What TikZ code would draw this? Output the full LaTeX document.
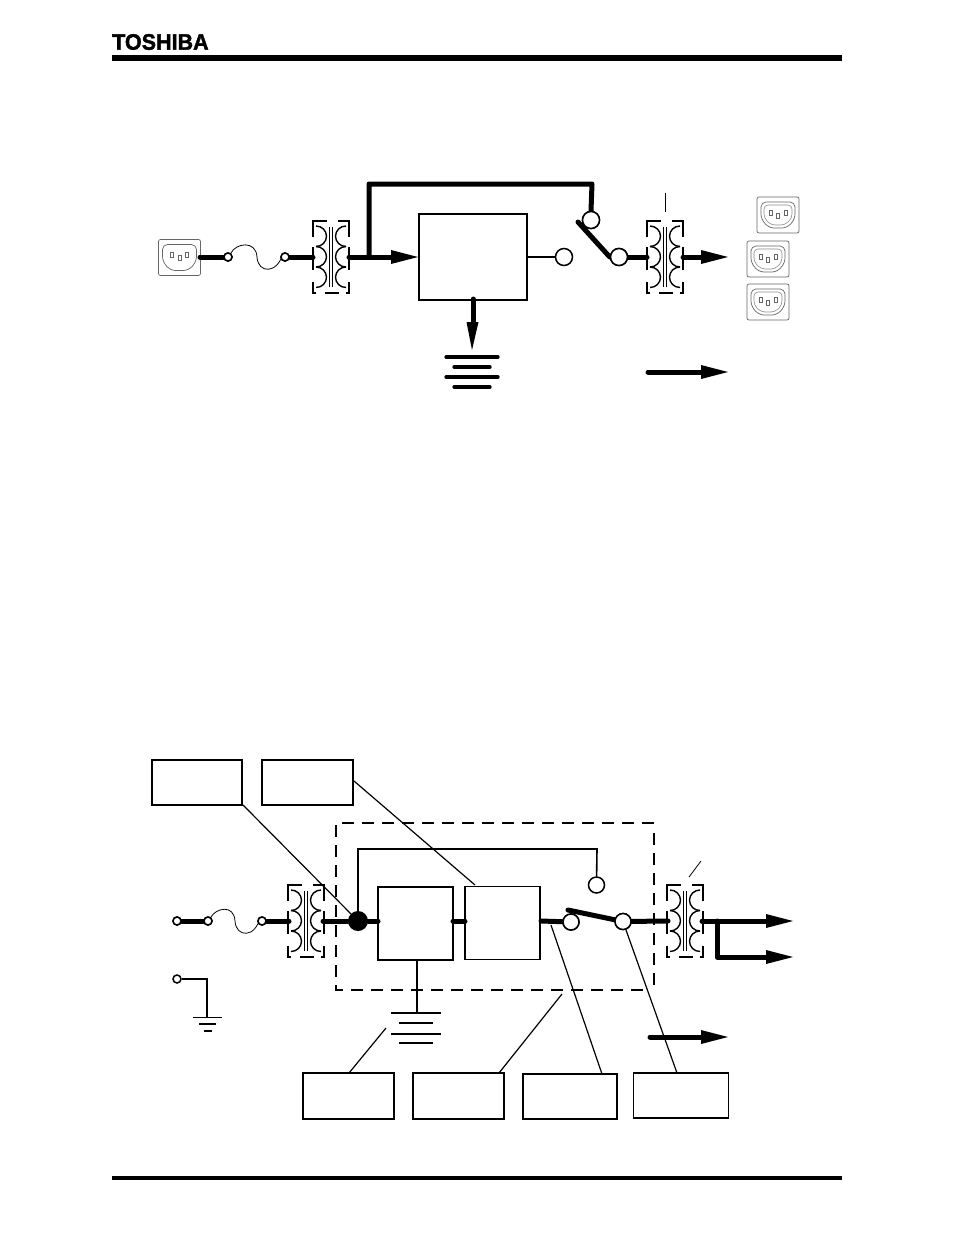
\documentclass[tikz,border=0pt]{standalone}
\usepackage{fontspec}
\setmainfont{Liberation Sans}
\newfontfamily\logofont[UprightFont=* Bold,FakeBold=1.8,FakeStretch=0.965]{Liberation Sans}
\tikzset{
 x=1pt,y=-1pt,
 heavy/.style={line width=5pt,line cap=round,line join=round},
 medium/.style={line width=1.6pt},
 thinline/.style={line width=1.2pt},
 hair/.style={line width=.8pt},
 term/.style={circle,draw,fill=white,inner sep=0pt,minimum size=#1,line width=1.5pt},
 term/.default=8pt,
 blockbox/.style={draw,line width=1.4pt,rectangle,fill=white,inner sep=0pt},
 strongbox/.style={draw,line width=2.2pt,rectangle,fill=white,inner sep=0pt},
 earthbar/.style={line width=3.2pt,line cap=round},
}
\newcommand{\xfmr}[2]{%
 \begin{scope}[shift={(#1,#2)}]
  \draw[line width=1.6pt]
    (-18,-20) -- (-18,-36) -- (-4.5,-36) (7,-36) -- (18,-36) -- (18,-20)
    (-18,-10) -- (-18,13) (18,-10) -- (18,13)
    (-18,25) -- (-18,36) -- (-15,36) (-6,36) -- (8,36) (15,36) -- (18,36) -- (18,25);
  \foreach \yy in {-31,-10.5,10}{
    \draw[line width=1.4pt] (-15,\yy) arc[start angle=-90,end angle=90,x radius=10.5,y radius=10.25];
    \draw[line width=1.4pt] (15,\yy) arc[start angle=-90,end angle=-270,x radius=10.5,y radius=10.25];
  }
  \draw[line width=.9pt] (-1.5,-30) -- (-1.5,30) (1.5,-30) -- (1.5,30);
 \end{scope}}
\newcommand{\outlet}[2]{%
 \begin{scope}[shift={(#1,#2)},black!60,line width=.7pt]
  \draw[rounded corners=2pt] (-21,-18) rectangle (21,18);
  \draw[rounded corners=5pt] (-17,-13) -- (17,-13) -- (17,4) -- (9,13) -- (-9,13) -- (-17,4) -- cycle;
  \draw (-9,-5) rectangle (-6,0) (6,-5) rectangle (9,0) (-1.5,-2) rectangle (1.5,3);
 \end{scope}}
\newcommand{\outletb}[2]{%
 \outlet{#1}{#2}
 \begin{scope}[shift={(#1,#2)},black!45,line width=.6pt]
  \draw[rounded corners=4pt] (-14,-10) -- (14,-10) -- (14,3) -- (7,10) -- (-7,10) -- (-14,3) -- cycle;
 \end{scope}}
\newcommand{\harrow}[3]{% x1,x2,y
 \draw[heavy] (#1,#3) -- (#2-20,#3);
 \fill (#2-27,#3-7) -- (#2,#3) -- (#2-27,#3+7) -- cycle;}
\begin{document}
\begin{tikzpicture}
\useasboundingbox (0,0) rectangle (954,1235);
\fill[white] (0,0) rectangle (954,1235);
% header / footer
\node[anchor=west,inner sep=0pt,font=\logofont\fontsize{22.3}{22.3}\selectfont] (logo) at (112,42) {TOSHIBA};
\coordinate (hl) at (112,58); \coordinate (hr) at (842,58);
\draw[line width=6pt] (hl) -- (hr);
\coordinate (fl) at (112,1178); \coordinate (fr) at (842,1178);
\draw[line width=4.5pt] (fl) -- (fr);

% ===== top diagram =====
\outlet{179.5}{257.5}
\outletb{778}{215}
\outletb{768}{259}
\outletb{768}{302}
\node[strongbox,line width=1.6pt,minimum width=108pt,minimum height=86pt] (b1) at (473,257) {};
\xfmr{331}{257}
\xfmr{665}{257}
\coordinate (s1) at (200,257);
\node[term=8pt] (f1) at (228,257) {};
\node[term=8pt] (f2) at (285,257) {};
\draw[heavy] (s1) -- (f1);
\draw[heavy] (f2) -- (313,257);
\draw[hair] (231,253) .. controls (236,243) and (256,240) .. (257,257) .. controls (258,274) and (278,274) .. (283,253);
\node[term=8pt] at (228,257) {};
\node[term=8pt] at (285,257) {};
\harrow{349}{418}{257}
\coordinate (by) at (369,257);
\node[term=17pt] (t1) at (591,220) {};
\node[term=17pt] (t2) at (564,257) {};
\node[term=17pt] (t3) at (619,257) {};
\draw[heavy] (by) -- (369,184) -- (592,184) -- (t1.north);
\draw[medium] (b1.east |- t2) -- (t2);
\draw[heavy] (578,222) -- (t3.west);
\draw[heavy] (t3) -- (647,257);
\node[term=17pt] at (591,220) {};
\node[term=17pt] at (619,257) {};
\harrow{683}{728}{257}
\draw[hair] (665,193) -- (665,212);
% earth
\draw[heavy] (473,299) -- (473,326);
\fill (466.5,322) -- (472,350) -- (478.5,322) -- cycle;
\draw[earthbar] (446,357) -- (498,357) (454,367) -- (490,367) (446,377) -- (498,377) (454,387) -- (490,387);
\harrow{648}{728}{372}

% ===== bottom diagram =====
\draw[line width=2pt,dash pattern=on 12pt off 8pt] (654,823) -- (336,823) -- (336,990) -- (648,990);
\draw[line width=1.1pt,dash pattern=on 12pt off 8pt] (654,833) -- (654,987);
\xfmr{306}{921}
\xfmr{685}{921}
\node[strongbox,line width=1.8pt,minimum width=75pt,minimum height=73pt] (b2) at (415.5,923.5) {};
\node[blockbox,minimum width=75pt,minimum height=73pt] (b3) at (502.5,923) {};
\node[term=8pt] (g1) at (177,921) {};
\node[term=8pt] (g2) at (208,921) {};
\node[term=8pt] (g3) at (262,921) {};
\draw[heavy] (g1) -- (g2);
\draw[heavy] (g3) -- (289,921);
\draw[hair] (211,917) .. controls (216,908) and (234,904) .. (235,921) .. controls (236,938) and (256,938) .. (260,917);
\node[term=8pt] at (177,921) {};
\node[term=8pt] at (208,921) {};
\node[term=8pt] at (262,921) {};
\node[circle,fill,inner sep=0pt,minimum size=20pt] (j) at (358,921) {};
\draw[heavy] (323,921) -- (j);
\draw[heavy] (j) -- (378,921);
\draw[heavy] (453,921) -- (465,921);
\node[term=16pt] (u1) at (596.5,885) {};
\node[term=16pt] (u2) at (571,922) {};
\node[term=16pt] (u3) at (623,921.5) {};
\draw[medium] (j) -- (358,849) -- (597,849) -- (u1);
\draw[heavy] (541,921) -- (u2);
\draw[heavy] (568,910) -- (u3);
\draw[heavy] (u3) -- (668,921);
\node[term=16pt] at (571,922) {};
\node[term=16pt] at (623,921.5) {};
\draw[hair] (689,877) -- (701,861);
\harrow{702}{793}{921}
\draw[heavy] (717,921) -- (717,957) -- (770,957);
\fill (766,950) -- (793,957) -- (766,964) -- cycle;
\harrow{650}{728}{1037}
% earth terminal
\node[term=8pt] (e1) at (177,979) {};
\draw[medium] (e1) -- (207,979) -- (207,1018);
\draw[line width=1.5pt] (193,1017.5) -- (222,1017.5) (199,1024) -- (216,1024) (204,1031) -- (212,1031);
% earth
\draw[medium] (417,960) -- (417,1013);
\draw[line width=1.2pt] (391,1013) -- (441,1013);
\draw[line width=1.8pt] (399,1023) -- (433,1023) (391,1034) -- (441,1034) (399,1043) -- (433,1043);
% callout boxes
\node[strongbox,minimum width=90pt,minimum height=45pt] (c1) at (197,782.5) {};
\node[strongbox,minimum width=91pt,minimum height=45pt] (c2) at (307.5,782.5) {};
\node[strongbox,minimum width=91pt,minimum height=46pt] (c3) at (348.5,1096) {};
\node[strongbox,minimum width=91pt,minimum height=46pt] (c4) at (458.5,1096) {};
\node[blockbox,minimum width=94pt,minimum height=45pt] (c5) at (570,1096.5) {};
\node[blockbox,minimum width=95pt,minimum height=45pt] (c6) at (681,1095.5) {};
\draw[thinline] (243,805) -- (j);
\draw[thinline] (354,781) -- (475,885);
\draw[thinline] (349,1073) -- (386,1028);
\draw[thinline] (499,1073) -- (562,994);
\draw[thinline] (551,925) -- (602,1074);
\draw[thinline] (626,930) -- (677,1073);
\end{tikzpicture}
\end{document}
